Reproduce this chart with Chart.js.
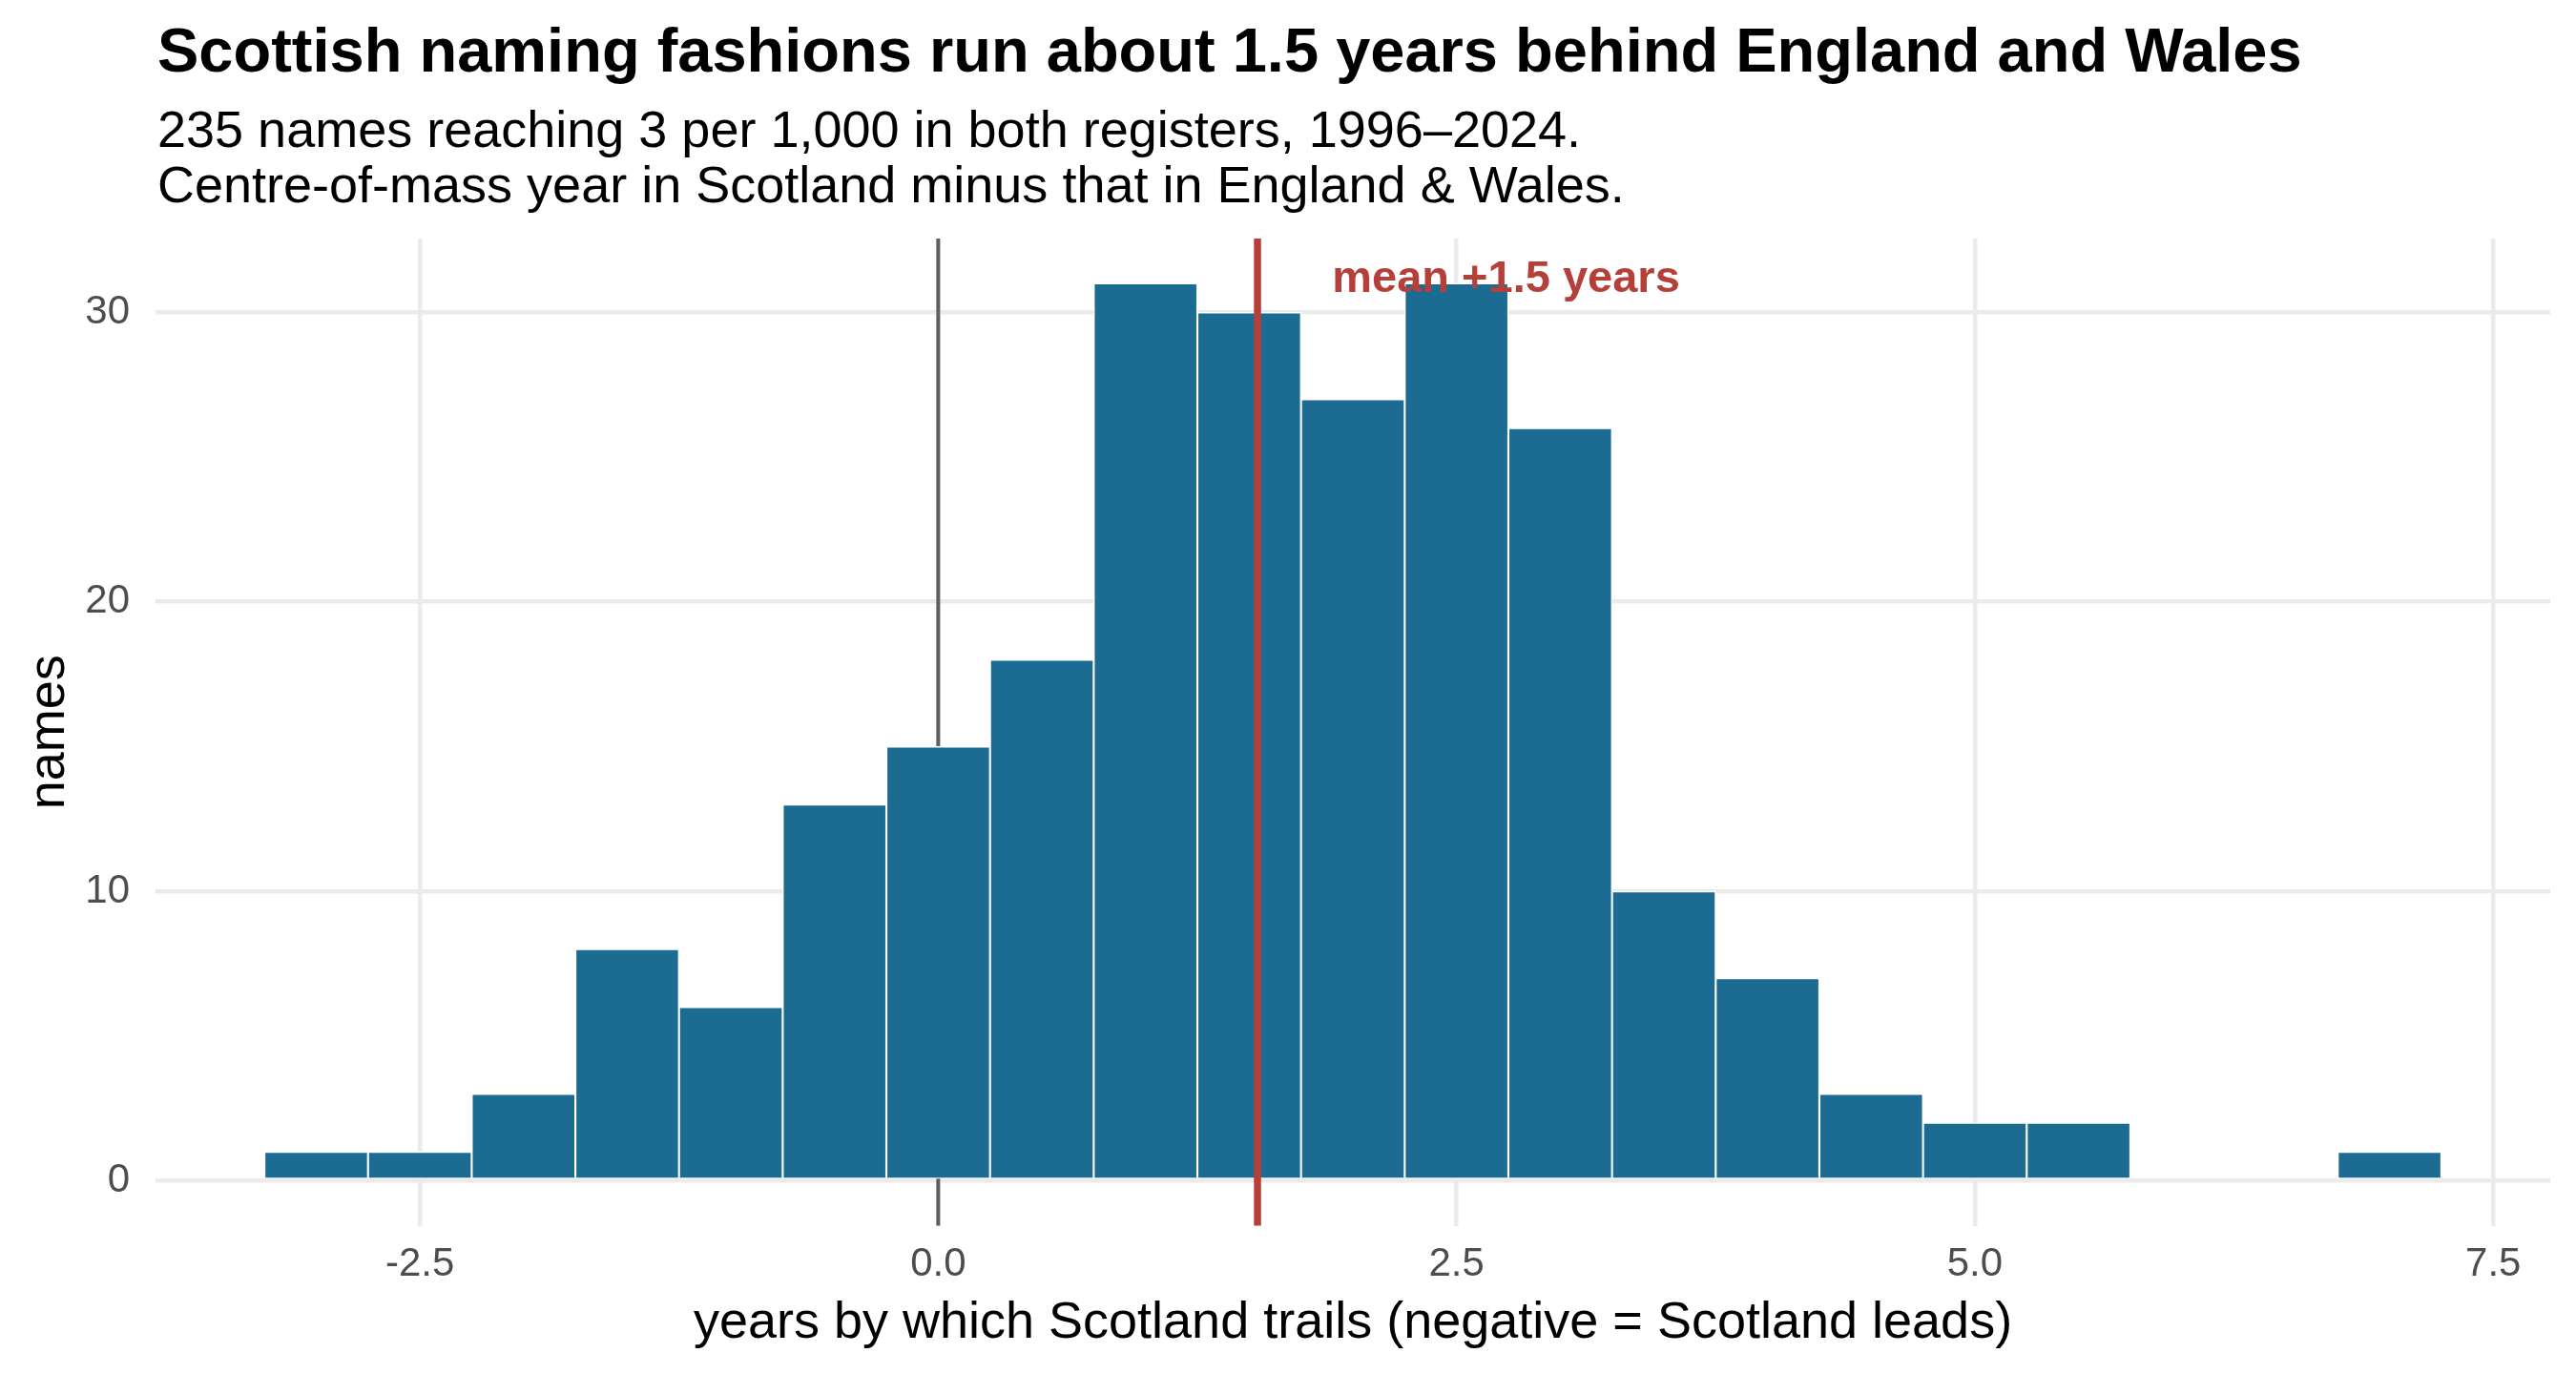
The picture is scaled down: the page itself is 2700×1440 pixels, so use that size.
<!DOCTYPE html>
<html>
<head>
<meta charset="utf-8">
<script src="https://cdn.jsdelivr.net/npm/chart.js@4.4.1/dist/chart.umd.min.js"></script>
<style>
  html, body { margin: 0; padding: 0; background: #ffffff; }
  #wrap { width: 2700px; height: 1440px; }
</style>
</head>
<body>
<div id="wrap"><canvas id="hist" width="2700" height="1440"></canvas></div>
<script>
// histogram bins (centre of each 0.5-year bin) and number of names in each
const binCentres = [-3.0, -2.5, -2.0, -1.5, -1.0, -0.5, 0.0, 0.5, 1.0, 1.5, 2.0,
                    2.5, 3.0, 3.5, 4.0, 4.5, 5.0, 5.5, 6.0, 6.5, 7.0];
const nameCounts = [1, 1, 3, 8, 6, 13, 15, 18, 31, 30, 27,
                    31, 26, 10, 7, 3, 2, 2, 0, 0, 1];

const xTicks = [-2.5, 0.0, 2.5, 5.0, 7.5];
const yTicks = [0, 10, 20, 30];

const meanShift = 1.54;            // mean lag, years
const meanLabel = "mean +1.5 years";

const titleText = "Scottish naming fashions run about 1.5 years behind England and Wales";
const subtitleLines = [
  "235 names reaching 3 per 1,000 in both registers, 1996\u20132024.",
  "Centre-of-mass year in Scotland minus that in England & Wales."
];
const xTitle = "years by which Scotland trails (negative = Scotland leads)";
const yTitle = "names";

const FONT = '"Liberation Sans", Arial, Helvetica, sans-serif';
const BAR = "#1c6b92";
const RED = "#b5403a";

// zero line sits behind the bars
const zeroLine = {
  id: "zeroLine",
  beforeDatasetsDraw(chart) {
    const {ctx, chartArea, scales} = chart;
    const x = scales.x.getPixelForValue(0);
    ctx.save();
    ctx.strokeStyle = "#5f5f5f";
    ctx.lineWidth = 4;
    ctx.beginPath();
    ctx.moveTo(x, chartArea.top);
    ctx.lineTo(x, chartArea.bottom);
    ctx.stroke();
    ctx.restore();
  }
};

// mean line + label, and the titles
const overlay = {
  id: "overlay",
  afterDatasetsDraw(chart) {
    const {ctx, chartArea, scales} = chart;
    const x = scales.x.getPixelForValue(meanShift);
    ctx.save();
    ctx.strokeStyle = RED;
    ctx.lineWidth = 7.5;
    ctx.beginPath();
    ctx.moveTo(x, chartArea.top);
    ctx.lineTo(x, chartArea.bottom);
    ctx.stroke();

    ctx.fillStyle = RED;
    ctx.font = "bold 47px " + FONT;
    ctx.textAlign = "left";
    ctx.textBaseline = "alphabetic";
    ctx.fillText(meanLabel, scales.x.getPixelForValue(meanShift + 0.36), scales.y.getPixelForValue(30.72));
    ctx.restore();
  },
  afterDraw(chart) {
    const {ctx, chartArea} = chart;
    ctx.save();
    ctx.fillStyle = "#000000";
    ctx.textAlign = "left";
    ctx.textBaseline = "alphabetic";
    ctx.font = "bold 65px " + FONT;
    ctx.fillText(titleText, 165, 75);
    ctx.font = "54px " + FONT;
    ctx.fillText(subtitleLines[0], 165, 154);
    ctx.fillText(subtitleLines[1], 165, 212);

    ctx.textAlign = "center";
    ctx.fillText(xTitle, (chartArea.left + chartArea.right) / 2, 1402);

    ctx.translate(67, (chartArea.top + chartArea.bottom) / 2);
    ctx.rotate(-Math.PI / 2);
    ctx.fillText(yTitle, 0, 0);
    ctx.restore();
  }
};

new Chart(document.getElementById("hist"), {
  type: "bar",
  data: {
    datasets: [{
      data: binCentres.map((c, i) => ({x: c, y: nameCounts[i]})),
      backgroundColor: BAR,
      borderColor: "#ffffff",
      borderWidth: 1.4,
      borderSkipped: false,
      categoryPercentage: 1.0,
      barPercentage: 1.0
    }]
  },
  options: {
    responsive: false,
    animation: false,
    devicePixelRatio: 1,
    layout: { padding: { top: 250, right: 27, bottom: 0, left: 0 } },
    plugins: {
      legend: { display: false },
      tooltip: { enabled: false }
    },
    scales: {
      x: {
        type: "linear",
        offset: false,
        min: -3.775,
        max: 7.775,
        afterBuildTicks: (scale) => { scale.ticks = xTicks.map(v => ({value: v})); },
        afterFit: (scale) => { scale.height = 155.5; },
        grid: { color: "#ebebeb", lineWidth: 4.5, drawTicks: false, offset: false },
        border: { display: false },
        ticks: {
          padding: 16,
          color: "#4d4d4d",
          font: { family: FONT, size: 42 },
          maxRotation: 0,
          callback: (v) => Number(v).toFixed(1)
        }
      },
      y: {
        min: -1.55,
        max: 32.55,
        afterBuildTicks: (scale) => { scale.ticks = yTicks.map(v => ({value: v})); },
        afterFit: (scale) => { scale.width = 163; },
        grid: { color: "#ebebeb", lineWidth: 4.5, drawTicks: false },
        border: { display: false },
        ticks: {
          padding: 27,
          color: "#4d4d4d",
          font: { family: FONT, size: 42 }
        }
      }
    }
  },
  plugins: [zeroLine, overlay]
});
</script>
</body>
</html>
